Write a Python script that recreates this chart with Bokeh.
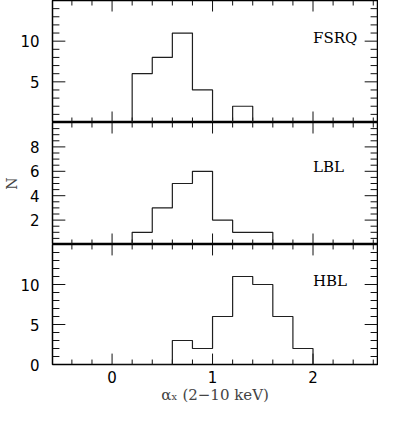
import numpy as np
from bokeh.plotting import figure
from bokeh.models import Range1d, LinearAxis, FixedTicker, Label
from bokeh.layouts import column
from bokeh.embed import file_html
from bokeh.resources import INLINE

# ---- data ----
bin_edges = [0.0, 0.2, 0.4, 0.6, 0.8, 1.0, 1.2, 1.4, 1.6, 1.8, 2.0]
classes = ["FSRQ", "LBL", "HBL"]
fsrq_counts = [0, 6, 8, 11, 4, 0, 2, 0, 0, 0]
lbl_counts = [0, 1, 3, 5, 6, 2, 1, 1, 0, 0]
hbl_counts = [0, 0, 0, 3, 2, 6, 11, 10, 6, 2]
x_major_ticks = [0, 1, 2]
fsrq_y_ticks = [5, 10]
lbl_y_ticks = [2, 4, 6, 8]
hbl_y_ticks = [0, 5, 10]
x_label = "\u03b1\u2093 (2\u221210 keV)"
y_label = "N"

TICK_FONT = "DejaVu Sans"
TEXT_FONT = "DejaVu Serif"
TICK_COLOR = "#111111"

WIDTH = 378
BORDER_LEFT = 48
BORDER_RIGHT = 1
FRAME_W = WIDTH - BORDER_LEFT - BORDER_RIGHT

xr = Range1d(-0.593, 2.642)
x_minor = [round(v, 2) for v in np.arange(-0.6, 2.81, 0.2) if abs(v - round(v)) > 1e-6]


def outline(edges, counts):
    xs, ys = [edges[0]], [0]
    for i, c in enumerate(counts):
        xs += [edges[i], edges[i + 1]]
        ys += [c, c]
    xs.append(edges[-1])
    ys.append(0)
    return xs, ys


def add_ticks(p, ymax, frame_h, ymajor, yminor):
    # all inward ticks of a panel as one NaN-separated polyline
    ux = (xr.end - xr.start) / FRAME_W
    uy = ymax / frame_h
    x0, x1 = xr.start, xr.end
    xmaj = [v for v in x_major_ticks if xr.start < v < xr.end]
    xmin = [v for v in x_minor if xr.start < v < xr.end]
    xs, ys = [], []
    for ticks, L in ((xmaj, 11), (xmin, 5)):
        for t in ticks:
            xs += [t, t, np.nan, t, t, np.nan]
            ys += [0, L * uy, np.nan, ymax, ymax - L * uy, np.nan]
    for ticks, L in ((ymajor, 13), (yminor, 7)):
        for t in ticks:
            xs += [x0, x0 + L * ux, np.nan, x1, x1 - L * ux, np.nan]
            ys += [t, t, np.nan, t, t, np.nan]
    p.line(np.array(xs, dtype=float), np.array(ys, dtype=float),
           line_color=TICK_COLOR, line_width=1)


def bare_axis(ax, ticks):
    ax.ticker = FixedTicker(ticks=ticks)
    ax.major_tick_in = 0
    ax.major_tick_out = 0
    ax.minor_tick_in = 0
    ax.minor_tick_out = 0
    ax.axis_line_color = None
    ax.major_label_text_font = TICK_FONT
    ax.major_label_text_font_size = "15px"
    ax.major_label_text_color = "black"


def panel(counts, name, ymax, yticks, yminor, height, frame_h, bottom, label_y, ylab=None):
    p = figure(width=WIDTH, height=height, x_range=xr, y_range=Range1d(0, ymax),
               output_backend="svg", toolbar_location=None,
               x_axis_location=None, y_axis_location=None,
               min_border_left=BORDER_LEFT, min_border_right=BORDER_RIGHT,
               min_border_top=0, min_border_bottom=0)
    p.outline_line_color = "black"
    p.outline_line_width = 1.5
    p.grid.visible = False
    p.background_fill_color = "white"
    p.border_fill_color = "white"

    left = LinearAxis()
    bare_axis(left, yticks)
    left.major_label_standoff = 13
    if ylab:
        left.axis_label = ylab
        left.axis_label_text_font = TEXT_FONT
        left.axis_label_text_font_size = "14px"
        left.axis_label_text_font_style = "normal"
        left.axis_label_standoff = 7
    p.add_layout(left, "left")

    if bottom:
        below = LinearAxis()
        bare_axis(below, x_major_ticks)
        below.major_label_standoff = 6
        below.axis_label = x_label
        below.axis_label_text_font = TEXT_FONT
        below.axis_label_text_font_size = "15px"
        below.axis_label_text_font_style = "normal"
        below.axis_label_standoff = 0
        p.add_layout(below, "below")

    add_ticks(p, ymax, frame_h, [t for t in yticks if 0 < t < ymax], yminor)

    xs, ys = outline(bin_edges, counts)
    p.line(xs, ys, line_color="#1f1f1f", line_width=1.2)

    p.add_layout(Label(x=2.0, y=label_y, text=name, text_font=TEXT_FONT,
                       text_font_size="15px", text_baseline="middle",
                       text_color="black"))
    return p


p1 = panel(fsrq_counts, classes[0], 15, fsrq_y_ticks, [v for v in range(1, 15) if v % 5],
           122, 122, False, 10.4)
p2 = panel(lbl_counts, classes[1], 10, lbl_y_ticks, [v / 2 for v in range(1, 20) if v % 4],
           122, 122, False, 6.35, ylab=y_label)
p3 = panel(hbl_counts, classes[2], 15, hbl_y_ticks, [v for v in range(1, 15) if v % 5],
           162, 121, True, 10.5)

layout = column(p1, p2, p3, spacing=0)
open("out.html", "w").write(file_html(layout, INLINE))
